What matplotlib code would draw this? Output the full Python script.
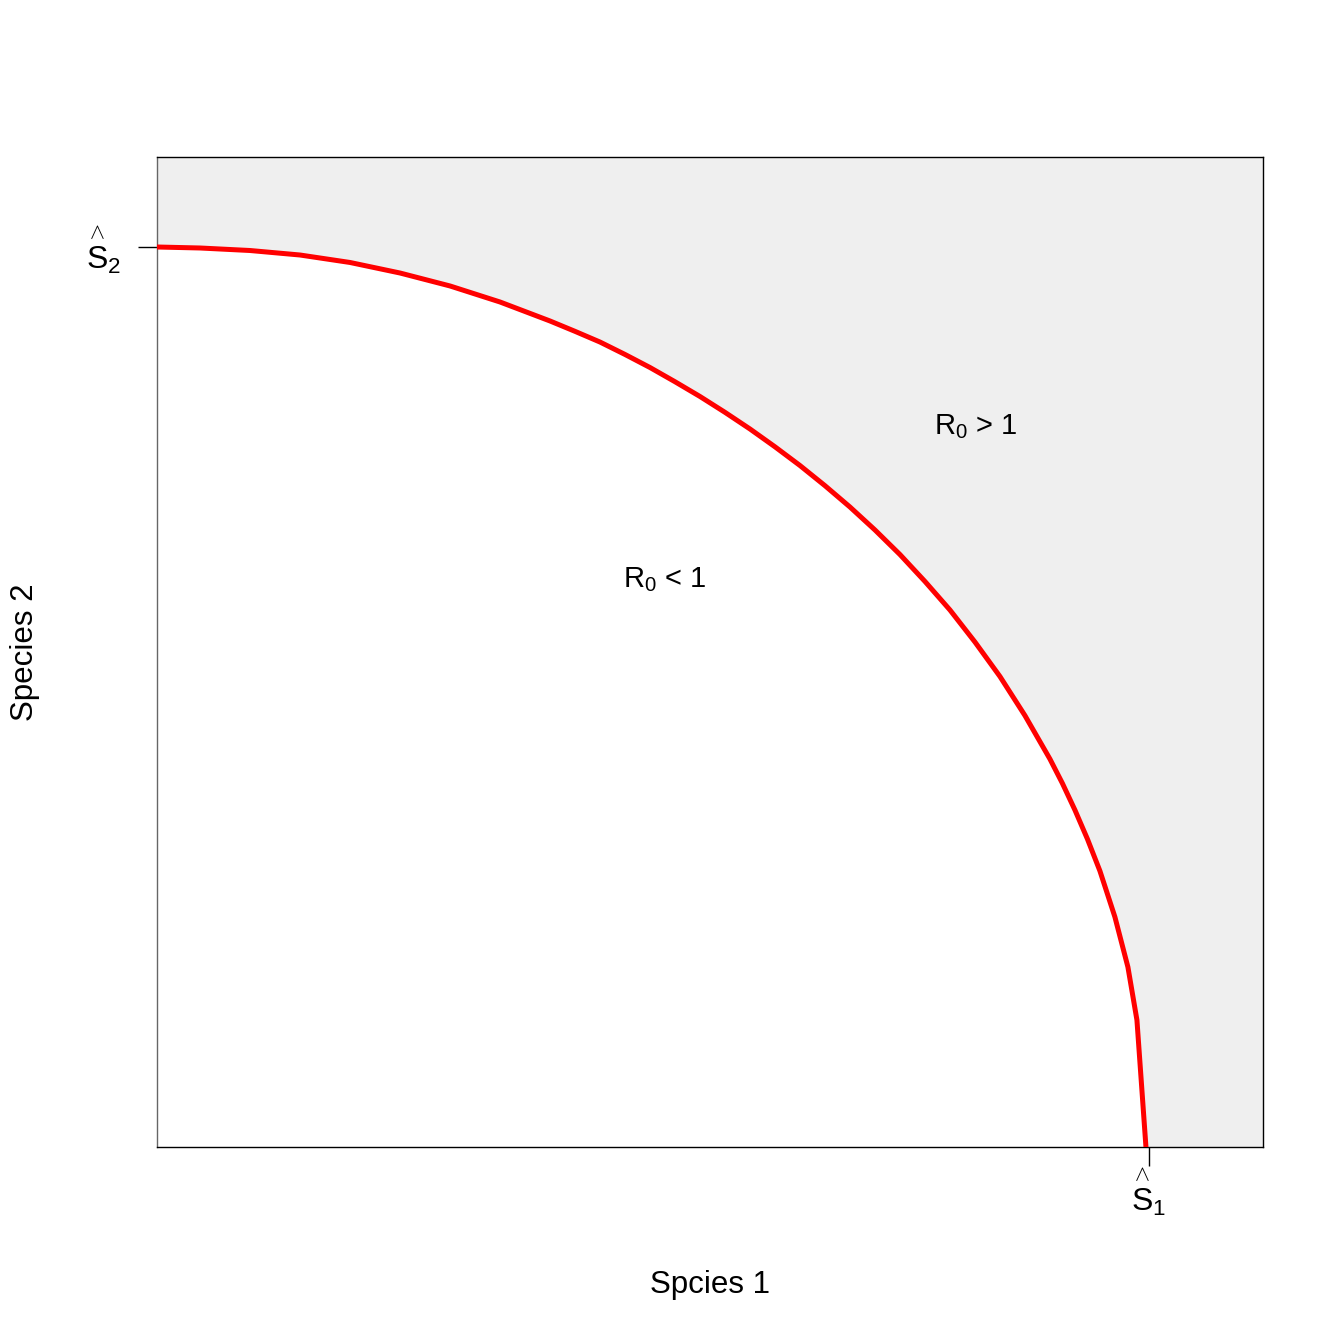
import numpy as np
import matplotlib
matplotlib.use("Agg")
import matplotlib.pyplot as plt

plt.rcParams['font.family'] = ['Liberation Sans', 'DejaVu Sans']
plt.rcParams['mathtext.fontset'] = 'custom'
plt.rcParams['mathtext.rm'] = 'Liberation Sans'
plt.rcParams['mathtext.it'] = 'Liberation Sans'
plt.rcParams['mathtext.bf'] = 'Liberation Sans:bold'

# boundary R0 = 1 (S1 hat = 1, S2 hat = 1)
species1 = [0.0, 0.0433, 0.0938, 0.1442, 0.1946, 0.2450, 0.2954, 0.3458,
            0.3962, 0.4214, 0.4466, 0.4718, 0.4970, 0.5222, 0.5474, 0.5726,
            0.5978, 0.6230, 0.6482, 0.6734, 0.6986, 0.7238, 0.7490, 0.7742,
            0.7994, 0.8246, 0.8498, 0.8750, 0.9002, 0.9128, 0.9254, 0.9380,
            0.9506, 0.9657, 0.9788, 0.9879, 0.9970]
species2 = [1.0, 0.9989, 0.9961, 0.9911, 0.9828, 0.9711, 0.9567, 0.9389,
            0.9178, 0.9063, 0.8944, 0.8806, 0.8661, 0.8503, 0.8339, 0.8163,
            0.7978, 0.7780, 0.7572, 0.7348, 0.7111, 0.6856, 0.6583, 0.6284,
            0.5967, 0.5611, 0.5228, 0.4794, 0.4311, 0.4040, 0.3744, 0.3422,
            0.3067, 0.2556, 0.2000, 0.1411, 0.0]
s1_hat = 1.0
s2_hat = 1.0
xmax, ymax = 1.115, 1.1

fig = plt.figure(figsize=(13.44, 13.44), dpi=100)
ax = fig.add_axes([157/1344, 1 - 1147/1344, 1106/1344, 990/1344])

# grey region above the curve
poly_x = species1 + [xmax, xmax, 0.0]
poly_y = species2 + [0.0, ymax, ymax]
ax.fill(poly_x, poly_y, color='#efefef', zorder=1)
ax.plot(species1, species2, color='red', lw=3.6, zorder=3,
        solid_joinstyle='round')

ax.set_xlim(0, xmax)
ax.set_ylim(0, ymax)

for side in ['top', 'right', 'bottom']:
    ax.spines[side].set_color('black')
    ax.spines[side].set_linewidth(1.0)
ax.spines['left'].set_color('#666666')
ax.spines['left'].set_linewidth(1.0)

ax.set_xticks([s1_hat])
ax.set_xticklabels([r'$\overset{\wedge}{S}_1$'])
ax.set_yticks([s2_hat])
ax.set_yticklabels([r'$\overset{\wedge}{S}_2$'])
ax.tick_params(axis='both', length=14, width=1, color='black',
               labelsize=23, direction='out')
ax.tick_params(axis='x', pad=0)
ax.tick_params(axis='y', pad=12)

ax.text(0.512, 0.63, 'R$_0$ < 1', fontsize=21, ha='center', va='center')
ax.text(0.825, 0.80, 'R$_0$ > 1', fontsize=21, ha='center', va='center')

ax.set_xlabel('Spcies 1', fontsize=22.5)
ax.xaxis.set_label_coords(0.5, -(1285 - 1147) / 990)
ax.xaxis.label.set_va('center')
ax.set_ylabel('Species 2', fontsize=22.5)
ax.yaxis.set_label_coords(-(157 - 25) / 1106, 0.5)
ax.yaxis.label.set_va('center')

fig.savefig('out.png', dpi=100)
